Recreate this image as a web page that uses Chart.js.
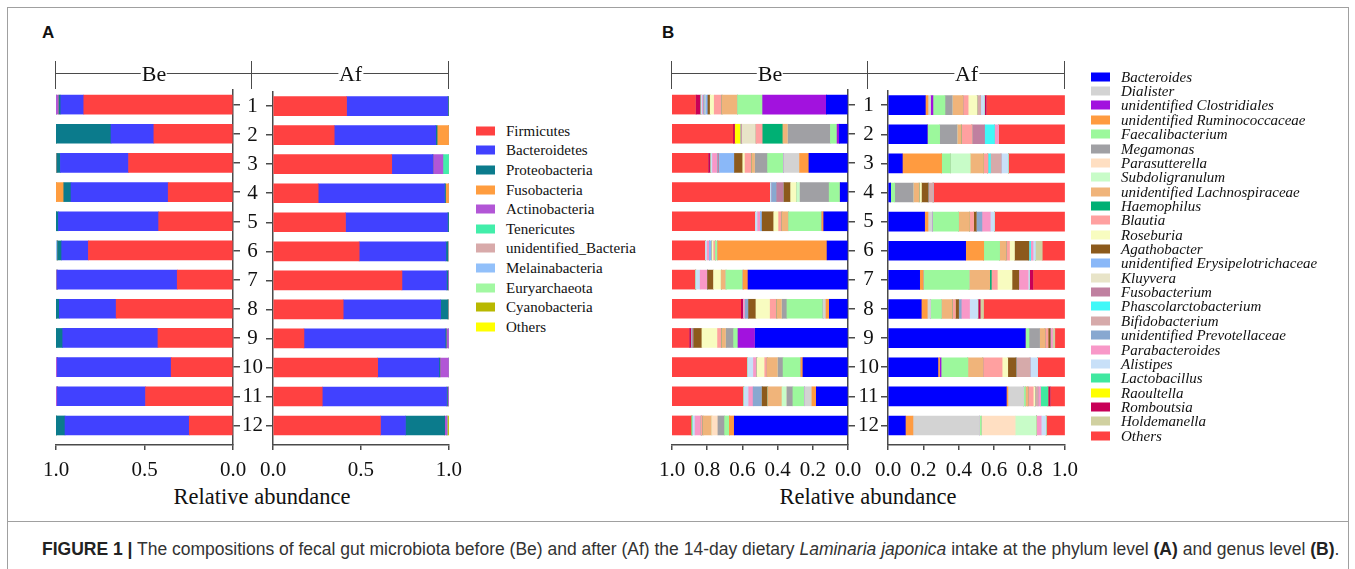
<!DOCTYPE html>
<html><head><meta charset="utf-8">
<script src="https://cdn.jsdelivr.net/npm/chart.js@4.4.1/dist/chart.umd.min.js"></script>
<style>
html,body{margin:0;padding:0;background:#fff;}
body{width:1355px;height:569px;position:relative;overflow:hidden;font-family:"Liberation Serif","Times New Roman",serif;color:#111;}
canvas{position:absolute;}
.frame{position:absolute;left:7px;top:7px;width:1340px;height:620px;border:1px solid #a0a0a0;}
.divider{position:absolute;left:7px;top:521px;width:1341px;height:0;border-top:1px solid #a0a0a0;}
.panel{position:absolute;font-family:"Liberation Sans",Arial,sans-serif;font-weight:bold;font-size:17px;color:#111;transform:translateY(-50%);}
.hline{position:absolute;height:0;border-top:1.5px solid #4a4a4a;}
.vtick{position:absolute;width:0;border-left:1.5px solid #4a4a4a;}
.htext{position:absolute;font-size:22px;line-height:22px;background:#fff;transform:translate(-50%,-50%);padding:0 1px;white-space:nowrap;}
.xtitle{position:absolute;font-size:22.5px;transform:translate(-50%,-50%);white-space:nowrap;}
.lg{position:absolute;white-space:nowrap;transform:translateY(-50%);}
.lg i.sw{position:absolute;display:block;}
.caption{position:absolute;left:42px;top:549px;transform:translateY(-50%);font-family:"Liberation Sans",Arial,sans-serif;font-size:17.5px;color:#333;white-space:nowrap;}
.caption b{color:#222;}
</style>
</head><body>
<div class="frame"></div>
<div class="divider"></div>
<div class="panel" style="left:42px;top:33px">A</div>
<div class="panel" style="left:662px;top:33px">B</div>
<canvas id="aBe" width="216" height="404"></canvas>
<canvas id="aAf" width="238" height="404"></canvas>
<canvas id="bBe" width="216" height="404"></canvas>
<canvas id="bAf" width="238" height="404"></canvas>
<div class="xtitle" style="left:262px;top:497px">Relative abundance</div>
<div class="xtitle" style="left:868px;top:497px">Relative abundance</div>
<div class="caption"><b>FIGURE 1 |</b> The compositions of fecal gut microbiota before (Be) and after (Af) the 14-day dietary <i>Laminaria japonica</i> intake at the phylum level <b>(A)</b> and genus level <b>(B)</b>.</div>
<script>
// ---------- shared ----------
const sampleLabels = ['1','2','3','4','5','6','7','8','9','10','11','12'];
const groupLabels = ['Be','Af'];
const phylumXTicks = [0, 0.5, 1];
const genusXTicks = [0, 0.2, 0.4, 0.6, 0.8, 1];

// ---------- Panel A: phylum level ----------
const phylumNames = ['Firmicutes','Bacteroidetes','Proteobacteria','Fusobacteria','Actinobacteria','Tenericutes','unidentified_Bacteria','Melainabacteria','Euryarchaeota','Cyanobacteria','Others'];
const phylumColors = ['#ff4141','#4141ff','#0b7b8c','#ff9d3f','#b256d6','#42eeaa','#d8aaaa','#92c0fa','#a2f8a2','#b8b800','#ffff00'];

const beFirmicutes      = [0.843,0.447,0.590,0.366,0.420,0.817,0.315,0.660,0.424,0.349,0.494,0.247];
const beBacteroidetes   = [0.130,0.242,0.385,0.549,0.566,0.151,0.678,0.321,0.538,0.643,0.498,0.702];
const beProteobacteria  = [0.010,0.311,0.020,0.041,0.014,0.023,0.000,0.019,0.038,0.000,0.000,0.050];
const beFusobacteria    = [0,0,0,0.044,0,0,0,0,0,0,0,0];
const beActinobacteria  = [0.017,0,0,0,0,0,0.004,0,0,0.008,0.008,0];
const beTenericutes     = [0,0,0,0,0,0,0,0,0,0,0,0];
const beUnidBacteria    = [0,0,0.005,0,0,0,0.003,0,0,0,0,0];
const beMelainabacteria = [0,0,0,0,0,0.009,0,0,0,0,0,0];
const beEuryarchaeota   = [0,0,0,0,0,0,0,0,0,0,0,0];
const beCyanobacteria   = [0,0,0,0,0,0,0,0,0,0,0,0];
const bePhylumOthers    = [0,0,0,0,0,0,0,0,0,0,0,0];

const afFirmicutes      = [0.418,0.348,0.675,0.257,0.412,0.490,0.733,0.399,0.176,0.595,0.280,0.611];
const afBacteroidetes   = [0.575,0.577,0.234,0.718,0.580,0.493,0.253,0.554,0.803,0.348,0.707,0.142];
const afProteobacteria  = [0.005,0.008,0.000,0.006,0.008,0.011,0.008,0.042,0.006,0.006,0.005,0.223];
const afFusobacteria    = [0,0.067,0,0.019,0,0,0,0,0,0,0,0];
const afActinobacteria  = [0,0,0.057,0,0,0,0.006,0,0.015,0.051,0.008,0.013];
const afTenericutes     = [0,0,0.034,0,0,0,0,0,0,0,0,0];
const afUnidBacteria    = [0.002,0,0,0,0,0.006,0,0.005,0,0,0,0];
const afMelainabacteria = [0,0,0,0,0,0,0,0,0,0,0,0];
const afEuryarchaeota   = [0,0,0,0,0,0,0,0,0,0,0,0];
const afCyanobacteria   = [0,0,0,0,0,0,0,0,0,0,0,0.011];
const afPhylumOthers    = [0,0,0,0,0,0,0,0,0,0,0,0];

const phylumBe = [beFirmicutes,beBacteroidetes,beProteobacteria,beFusobacteria,beActinobacteria,beTenericutes,beUnidBacteria,beMelainabacteria,beEuryarchaeota,beCyanobacteria,bePhylumOthers];
const phylumAf = [afFirmicutes,afBacteroidetes,afProteobacteria,afFusobacteria,afActinobacteria,afTenericutes,afUnidBacteria,afMelainabacteria,afEuryarchaeota,afCyanobacteria,afPhylumOthers];

// ---------- Panel B: genus level ----------
const genusLegendNames = ['Bacteroides','Dialister','unidentified Clostridiales','unidentified Ruminococcaceae','Faecalibacterium','Megamonas','Parasutterella','Subdoligranulum','unidentified Lachnospiraceae','Haemophilus','Blautia','Roseburia','Agathobacter','unidentified Erysipelotrichaceae','Kluyvera','Fusobacterium','Phascolarctobacterium','Bifidobacterium','unidentified Prevotellaceae','Parabacteroides','Alistipes','Lactobacillus','Raoultella','Romboutsia','Holdemanella','Others'];
const genusLegendColors = ['#0000ff','#d3d3d3','#a212de','#ff9b40','#9cf89c','#a0a0a4','#ffdfc2','#c8fcc8','#f0b47a','#00b074','#ffa0a0','#f8fcc0','#8c5a1c','#8ab8f8','#e8e4c8','#c080a0','#40f8f8','#d6aaaa','#88a8d0','#f898c8','#c8e0f8','#40e8a0','#ffff00','#c80058','#d0d0a0','#ff4141'];
// order in which the genera are stacked from the axis outward
const genusStackNames = ['Bacteroides','unidentified Ruminococcaceae','Dialister','unidentified Clostridiales','Faecalibacterium','Megamonas','Parasutterella','Subdoligranulum','unidentified Lachnospiraceae','Haemophilus','Blautia','Roseburia','Agathobacter','unidentified Erysipelotrichaceae','Kluyvera','Fusobacterium','Phascolarctobacterium','Bifidobacterium','unidentified Prevotellaceae','Parabacteroides','Alistipes','Lactobacillus','Raoultella','Romboutsia','Holdemanella','Others'];

const beBacteroides      = [0.123,0.049,0.222,0.044,0.138,0.119,0.568,0.106,0.527,0.256,0.180,0.646];
const beRuminococcaceae  = [0,0,0.053,0,0.010,0.621,0.028,0.019,0,0.011,0.025,0.028];
const beDialister        = [0,0,0.091,0,0,0,0,0.016,0,0,0.042,0];
const beClostridiales    = [0.362,0.013,0,0,0,0,0,0,0.098,0,0,0];
const beFaecalibacterium = [0.142,0.038,0.091,0.063,0.189,0.013,0.097,0.206,0.025,0.102,0.066,0.027];
const beMegamonas        = [0,0.240,0.070,0.165,0,0,0,0.027,0.042,0.028,0.034,0.038];
const beParasutterella   = [0,0,0,0,0,0,0,0,0,0,0,0.034];
const beSubdoligranulum  = [0,0,0,0.020,0,0,0,0,0,0,0.028,0];
const beLachnospiraceae  = [0.089,0.030,0.020,0,0.038,0,0.027,0.030,0.025,0.062,0.081,0.051];
const beHaemophilus      = [0,0.114,0,0,0,0,0,0,0,0,0,0];
const beBlautia          = [0.044,0.038,0.038,0,0.019,0.010,0,0.038,0.024,0.014,0,0.010];
const beRoseburia        = [0.023,0,0.013,0.034,0.028,0.010,0.044,0.081,0.089,0.044,0,0];
const beAgathobacter     = [0.013,0,0.047,0.038,0.066,0,0.034,0.042,0.047,0,0.032,0];
const beErysipelotrichaceae = [0.012,0,0.085,0,0.010,0.015,0,0,0,0,0,0];
const beKluyvera         = [0.005,0.080,0,0,0,0,0,0,0,0,0,0];
const beFusobacterium    = [0,0.005,0.010,0.042,0,0,0,0,0.010,0,0,0];
const bePhascolarctobacterium = [0,0,0,0,0,0,0,0,0,0,0,0];
const beBifidobacterium  = [0,0,0,0,0,0,0,0,0,0,0,0];
const bePrevotellaceae   = [0.008,0,0,0.028,0,0,0,0.019,0,0,0.051,0];
const beParabacteroides  = [0.006,0,0.030,0,0.015,0.012,0.042,0.009,0,0.020,0.025,0.035];
const beAlistipes        = [0.008,0,0.009,0.007,0.013,0.010,0.025,0,0,0.033,0.028,0.013];
const beLactobacillus    = [0,0,0,0,0,0,0,0,0,0,0,0.005];
const beRaoultella       = [0,0.034,0,0,0,0,0,0,0,0,0,0];
const beRomboutsia       = [0.028,0.010,0.013,0,0,0,0,0.013,0.013,0,0,0];
const beHoldemanella     = [0,0,0,0,0,0,0,0,0,0,0,0];
const beGenusOthers      = [0.137,0.349,0.208,0.559,0.474,0.190,0.135,0.394,0.100,0.430,0.408,0.113];

const afBacteroides      = [0.211,0.222,0.081,0.015,0.207,0.439,0.179,0.188,0.776,0.282,0.669,0.098];
const afRuminococcaceae  = [0.015,0,0.222,0,0.019,0.102,0.019,0.034,0,0.009,0.009,0.043];
const afDialister        = [0.015,0,0,0,0.024,0,0,0.019,0,0,0.089,0.377];
const afClostridiales    = [0.013,0,0,0,0,0,0,0,0,0.009,0,0];
const afFaecalibacterium = [0.068,0.070,0.049,0.023,0.149,0.090,0.260,0.060,0.021,0.151,0.009,0.009];
const afMegamonas        = [0.041,0.098,0,0.104,0,0,0,0,0.060,0,0,0];
const afParasutterella   = [0,0,0,0,0,0,0,0,0,0,0,0.192];
const afSubdoligranulum  = [0,0,0.113,0,0,0,0,0,0,0,0,0.119];
const afLachnospiraceae  = [0.060,0.024,0.075,0.034,0.062,0.036,0.117,0.062,0.030,0.085,0.015,0];
const afHaemophilus      = [0,0,0,0,0,0,0.009,0,0,0,0,0];
const afBlautia          = [0.030,0.060,0.024,0,0.023,0.020,0.034,0.017,0.017,0.109,0.030,0];
const afRoseburia        = [0.051,0,0,0.013,0,0.028,0.083,0,0,0.032,0.010,0];
const afAgathobacter     = [0,0,0,0.038,0.015,0.081,0.038,0.019,0.013,0.047,0,0];
const afErysipelotrichaceae = [0,0,0,0,0,0,0,0,0,0,0,0];
const afKluyvera         = [0,0,0,0,0,0,0,0,0,0,0,0];
const afFusobacterium    = [0,0.072,0,0,0,0,0,0,0,0,0,0];
const afPhascolarctobacterium = [0,0.056,0.015,0,0,0.010,0,0,0,0,0,0];
const afBifidobacterium  = [0.020,0,0.060,0.028,0,0,0,0,0,0.079,0.017,0];
const afPrevotellaceae   = [0,0,0,0,0.032,0,0,0.015,0,0,0,0];
const afParabacteroides  = [0,0.023,0,0,0.047,0.014,0.053,0.047,0.013,0,0.015,0.028];
const afAlistipes        = [0.021,0,0.041,0,0.024,0.014,0.008,0.047,0,0.043,0,0.028];
const afLactobacillus    = [0,0,0,0,0,0,0,0,0,0,0.041,0];
const afRaoultella       = [0,0,0,0,0,0,0,0,0,0,0,0];
const afRomboutsia       = [0.010,0,0,0,0,0,0.019,0.013,0,0,0.013,0];
const afHoldemanella     = [0,0,0,0,0,0.038,0,0.019,0.013,0,0,0];
const afGenusOthers      = [0.445,0.375,0.320,0.745,0.398,0.128,0.181,0.460,0.057,0.154,0.083,0.106];

const genusBe = {
  'Bacteroides':beBacteroides,'unidentified Ruminococcaceae':beRuminococcaceae,'Dialister':beDialister,
  'unidentified Clostridiales':beClostridiales,'Faecalibacterium':beFaecalibacterium,'Megamonas':beMegamonas,
  'Parasutterella':beParasutterella,'Subdoligranulum':beSubdoligranulum,'unidentified Lachnospiraceae':beLachnospiraceae,
  'Haemophilus':beHaemophilus,'Blautia':beBlautia,'Roseburia':beRoseburia,'Agathobacter':beAgathobacter,
  'unidentified Erysipelotrichaceae':beErysipelotrichaceae,'Kluyvera':beKluyvera,'Fusobacterium':beFusobacterium,
  'Phascolarctobacterium':bePhascolarctobacterium,'Bifidobacterium':beBifidobacterium,'unidentified Prevotellaceae':bePrevotellaceae,
  'Parabacteroides':beParabacteroides,'Alistipes':beAlistipes,'Lactobacillus':beLactobacillus,'Raoultella':beRaoultella,
  'Romboutsia':beRomboutsia,'Holdemanella':beHoldemanella,'Others':beGenusOthers};
const genusAf = {
  'Bacteroides':afBacteroides,'unidentified Ruminococcaceae':afRuminococcaceae,'Dialister':afDialister,
  'unidentified Clostridiales':afClostridiales,'Faecalibacterium':afFaecalibacterium,'Megamonas':afMegamonas,
  'Parasutterella':afParasutterella,'Subdoligranulum':afSubdoligranulum,'unidentified Lachnospiraceae':afLachnospiraceae,
  'Haemophilus':afHaemophilus,'Blautia':afBlautia,'Roseburia':afRoseburia,'Agathobacter':afAgathobacter,
  'unidentified Erysipelotrichaceae':afErysipelotrichaceae,'Kluyvera':afKluyvera,'Fusobacterium':afFusobacterium,
  'Phascolarctobacterium':afPhascolarctobacterium,'Bifidobacterium':afBifidobacterium,'unidentified Prevotellaceae':afPrevotellaceae,
  'Parabacteroides':afParabacteroides,'Alistipes':afAlistipes,'Lactobacillus':afLactobacillus,'Raoultella':afRaoultella,
  'Romboutsia':afRomboutsia,'Holdemanella':afHoldemanella,'Others':afGenusOthers};

// ---------- drawing ----------
const AXIS = '#4a4a4a';
const SERIF = '"Liberation Serif", "Times New Roman", serif';
const sampleIds = sampleLabels.map(Number);

function place(id, left, top) {
  const c = document.getElementById(id);
  c.style.left = left + 'px'; c.style.top = top + 'px';
  return c;
}

function makeChart(canvas, datasets, side, xTicks, geom) {
  const isBe = side === 'Be';
  return new Chart(canvas, {
    type: 'bar',
    data: { labels: sampleLabels, datasets },
    options: {
      indexAxis: 'y', responsive: false, animation: false, devicePixelRatio: 1,
      layout: { padding: geom.padding },
      plugins: { legend: { display: false }, tooltip: { enabled: false } },
      datasets: { bar: { barThickness: 19, borderWidth: 0, borderSkipped: false } },
      scales: {
        x: {
          type: 'linear', min: 0, max: 1, reverse: isBe, stacked: true, offset: false, bounds: 'data',
          afterBuildTicks: s => { s.ticks = xTicks.map(v => ({ value: v })); },
          afterFit: s => { s.height = 35; },
          grid: { display: true, offset: false, drawOnChartArea: false, drawTicks: true, tickLength: 5, color: AXIS, lineWidth: 1.5 },
          border: { display: true, color: AXIS, width: 1.5 },
          ticks: { font: { family: SERIF, size: 21 }, color: '#111', padding: 8, maxRotation: 0, autoSkip: false,
                   callback: v => Number(v).toFixed(1) }
        },
        y: {
          type: 'linear', position: isBe ? 'right' : 'left', min: 0.5, max: 12.67, reverse: true, stacked: true,
          offset: false, bounds: 'data', grace: 0,
          afterBuildTicks: s => { s.ticks = sampleIds.map(v => ({ value: v })); },
          afterFit: s => { s.width = geom.yWidth; },
          grid: { display: true, offset: false, drawOnChartArea: false, drawTicks: true, tickLength: 7, color: AXIS, lineWidth: 1.5 },
          border: { display: true, color: AXIS, width: 1.5 },
          ticks: { display: !isBe, includeBounds: false, font: { family: SERIF, size: 21 }, color: '#111', crossAlign: 'center',
                   padding: geom.labelPad, autoSkip: false,
                   callback: (v, i) => sampleLabels[i] }
        }
      }
    }
  });
}

function phylumSets(values) {
  return phylumNames.map((n, k) => ({ label: n, data: values[k], backgroundColor: phylumColors[k] }));
}
function genusSets(table) {
  return genusStackNames.map(n => ({ label: n, data: table[n], backgroundColor: genusLegendColors[genusLegendNames.indexOf(n)] }));
}

const TOP = 76;
makeChart(place('aBe', 36, TOP), phylumSets(phylumBe), 'Be', phylumXTicks, { padding: { left: 20, right: 0, top: 14, bottom: 0 }, yWidth: 19, labelPad: 0 });
makeChart(place('aAf', 232, TOP), phylumSets(phylumAf), 'Af', phylumXTicks, { padding: { left: 0, right: 21, top: 14, bottom: 0 }, yWidth: 41, labelPad: 3 });
makeChart(place('bBe', 652, TOP), genusSets(genusBe), 'Be', genusXTicks, { padding: { left: 20, right: 0, top: 14, bottom: 0 }, yWidth: 20, labelPad: 0 });
makeChart(place('bAf', 848, TOP), genusSets(genusAf), 'Af', genusXTicks, { padding: { left: 0, right: 21, top: 14, bottom: 0 }, yWidth: 40, labelPad: 2 });

// ---------- group brackets (Be / Af) ----------
function bracket(x0, x1, text) {
  const y = 73;
  const l = document.createElement('div'); l.className = 'hline';
  l.style.left = x0 + 'px'; l.style.top = y + 'px'; l.style.width = (x1 - x0) + 'px';
  document.body.appendChild(l);
  [x0, x1].forEach(x => {
    const t = document.createElement('div'); t.className = 'vtick';
    t.style.left = (x - 0.75) + 'px'; t.style.top = '61px'; t.style.height = '28px';
    document.body.appendChild(t);
  });
  const s = document.createElement('div'); s.className = 'htext'; s.textContent = text;
  s.style.left = ((x0 + x1) / 2) + 'px'; s.style.top = (y + 1) + 'px';
  document.body.appendChild(s);
}
bracket(56, 252, groupLabels[0]); bracket(252, 449, groupLabels[1]);
bracket(672, 868, groupLabels[0]); bracket(868, 1065, groupLabels[1]);

// ---------- legends ----------
function legend(names, colors, x, y0, step, fontSize, italic) {
  names.forEach((n, k) => {
    const d = document.createElement('div'); d.className = 'lg';
    d.style.left = (x + 30) + 'px'; d.style.top = (y0 + k * step) + 'px';
    d.style.fontSize = fontSize + 'px'; d.style.lineHeight = fontSize + 'px';
    if (italic) d.style.fontStyle = 'italic';
    d.textContent = n;
    const sw = document.createElement('i'); sw.className = 'sw';
    sw.style.left = '-30px'; sw.style.top = ((fontSize - 9) / 2) + 'px';
    sw.style.width = '19px'; sw.style.height = '9px'; sw.style.background = colors[k];
    d.appendChild(sw);
    document.body.appendChild(d);
  });
}
legend(phylumNames, phylumColors, 476, 130.7, 19.6, 15, false);
legend(genusLegendNames, genusLegendColors, 1091, 76.7, 14.36, 15, true);
</script>
</body></html>
